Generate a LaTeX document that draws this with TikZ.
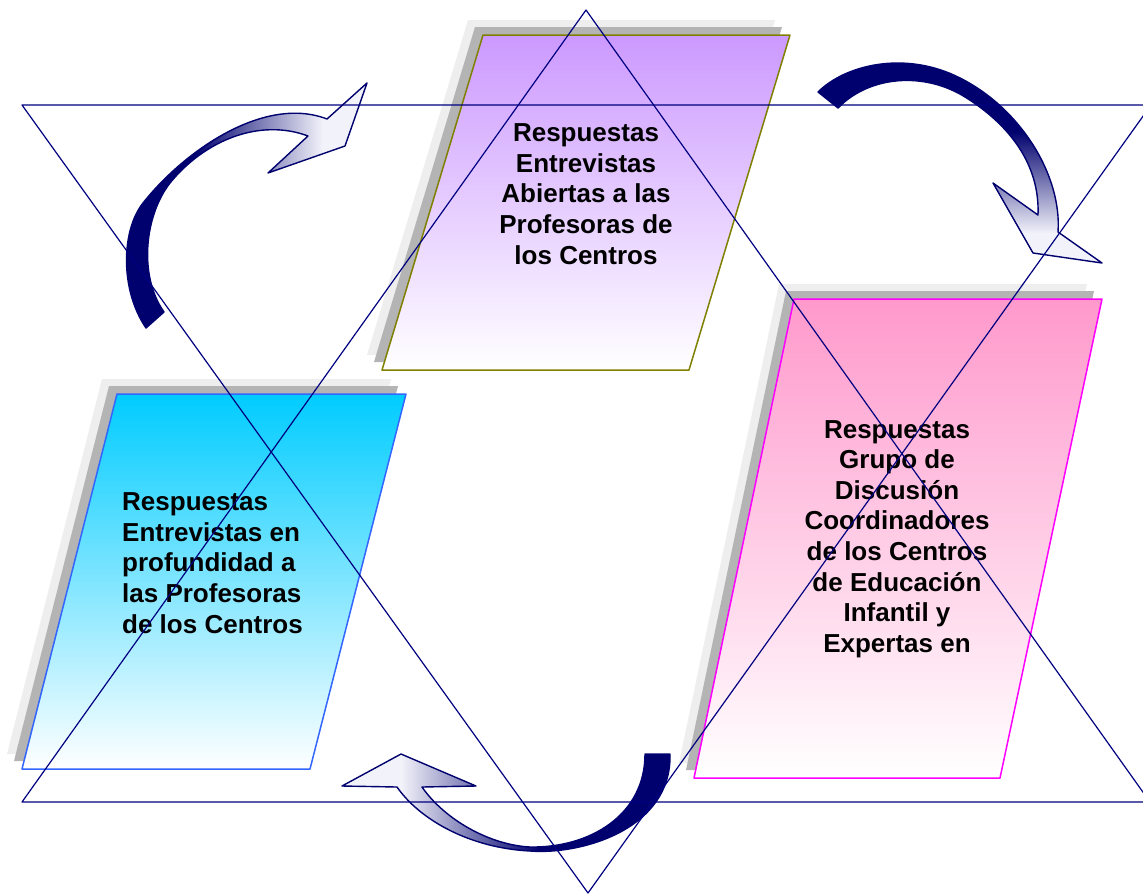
\documentclass[tikz,border=0pt]{standalone}
\usepackage{fontspec}
\setmainfont{Liberation Sans}
\usetikzlibrary{positioning}

\definecolor{starline}{RGB}{0,0,128}
\definecolor{arrownavy}{RGB}{0,0,110}
\definecolor{arrowpale}{RGB}{242,242,250}
\definecolor{shadowdark}{RGB}{180,180,180}
\definecolor{shadowlight}{RGB}{238,238,238}
\definecolor{lilac}{RGB}{204,153,255}
\definecolor{olivine}{RGB}{128,128,0}
\definecolor{rosy}{RGB}{255,153,204}
\definecolor{magentaline}{RGB}{255,0,255}
\definecolor{skyblue}{RGB}{0,204,255}
\definecolor{blueline}{RGB}{51,102,255}

% fades for the three curved arrows
\pgfdeclarehorizontalshading{fadeleftright}{100bp}{color(0bp)=(arrownavy); color(40bp)=(arrownavy); color(66bp)=(arrowpale); color(100bp)=(arrowpale)}
\pgfdeclarehorizontalshading{faderightleft}{100bp}{color(0bp)=(arrowpale); color(34bp)=(arrowpale); color(55bp)=(arrownavy); color(100bp)=(arrownavy)}
\pgfdeclareverticalshading{fadetopdown}{100bp}{color(0bp)=(arrowpale); color(32bp)=(arrowpale); color(56bp)=(arrownavy); color(100bp)=(arrownavy)}

\begin{document}
\begin{tikzpicture}[x=1pt, y=-1pt, line join=round,
  star/.style={draw=starline, line width=1.2pt},
  card/.style={line width=1.5pt, bottom color=white},
  bent/.style={shade, draw=arrownavy, line width=1.4pt},
  cardtext/.style={font=\fontsize{26}{30.6}\selectfont\bfseries, inner sep=0pt}]
\useasboundingbox (0,0) rectangle (1143,895);
\clip (0,0) rectangle (1143,895);

% shadows behind the cards
\foreach \d/\c in {15/shadowlight, 8/shadowdark} {
  \fill[\c, shift={(-\d,-\d)}] (483,35) -- (790,35) -- (689,370) -- (382,370) -- cycle;
  \fill[\c, shift={(-\d,-\d)}] (117,394) -- (406,394) -- (310,769) -- (22,769) -- cycle;
  \fill[\c, shift={(-\d,-\d)}] (794,299) -- (1102,299) -- (1000,778) -- (694,778) -- cycle;
}

% cards
\path[card, draw=olivine, top color=lilac] (483,35) -- (790,35) -- (689,370) -- (382,370) -- cycle;
\path[card, draw=blueline, top color=skyblue] (117,394) -- (406,394) -- (310,769) -- (22,769) -- cycle;
\path[card, draw=magentaline, top color=rosy] (794,299) -- (1102,299) -- (1000,778) -- (694,778) -- cycle;

\node (abiertas) [cardtext, align=center] at (586,194) {Respuestas\\Entrevistas\\Abiertas a las\\Profesoras de\\los Centros};
\node (profundidad) [cardtext, align=left, anchor=west] at (122,563) {Respuestas\\Entrevistas en\\profundidad a\\las Profesoras\\de los Centros};
\node (grupo) [cardtext, align=center] at (897,539) {Respuestas\\Grupo de\\Discusión\\Coordinadores\\de los Centros\\de Educación\\Infantil y\\Expertas en};

% curved arrows
\path[bent, shading=fadeleftright] (146,328) .. controls (120,290) and (121,231) .. (143,203)
  .. controls (185,150) and (265,95) .. (327,119)
  -- (367,83) -- (345,146) -- (268,173) -- (308,136)
  .. controls (260,118) and (205,140) .. (170,183)
  .. controls (145,215) and (138,275) .. (164,312) -- cycle;
\path[bent, shading=fadetopdown] (818,92) .. controls (845,65) and (905,50) .. (960,78)
  .. controls (1020,108) and (1062,175) .. (1058,232)
  -- (1102,263) -- (1033,253) -- (993,183) -- (1038,215)
  .. controls (1040,165) and (1010,125) .. (965,97)
  .. controls (925,72) and (870,75) .. (838,108) -- cycle;
\path[bent, shading=faderightleft] (670,754) .. controls (672,830) and (580,855) .. (530,851)
  .. controls (470,848) and (420,820) .. (397,787)
  -- (342,786) -- (401,754) -- (476,786) -- (422,787)
  .. controls (445,820) and (490,845) .. (530,847)
  .. controls (590,848) and (645,815) .. (645,754) -- cycle;

% the two crossing triangles
\draw[star] (22,105) -- (1151,105) -- (588,893) -- cycle;
\draw[star] (586,10) -- (1150,802) -- (22,802) -- cycle;
\end{tikzpicture}
\end{document}
